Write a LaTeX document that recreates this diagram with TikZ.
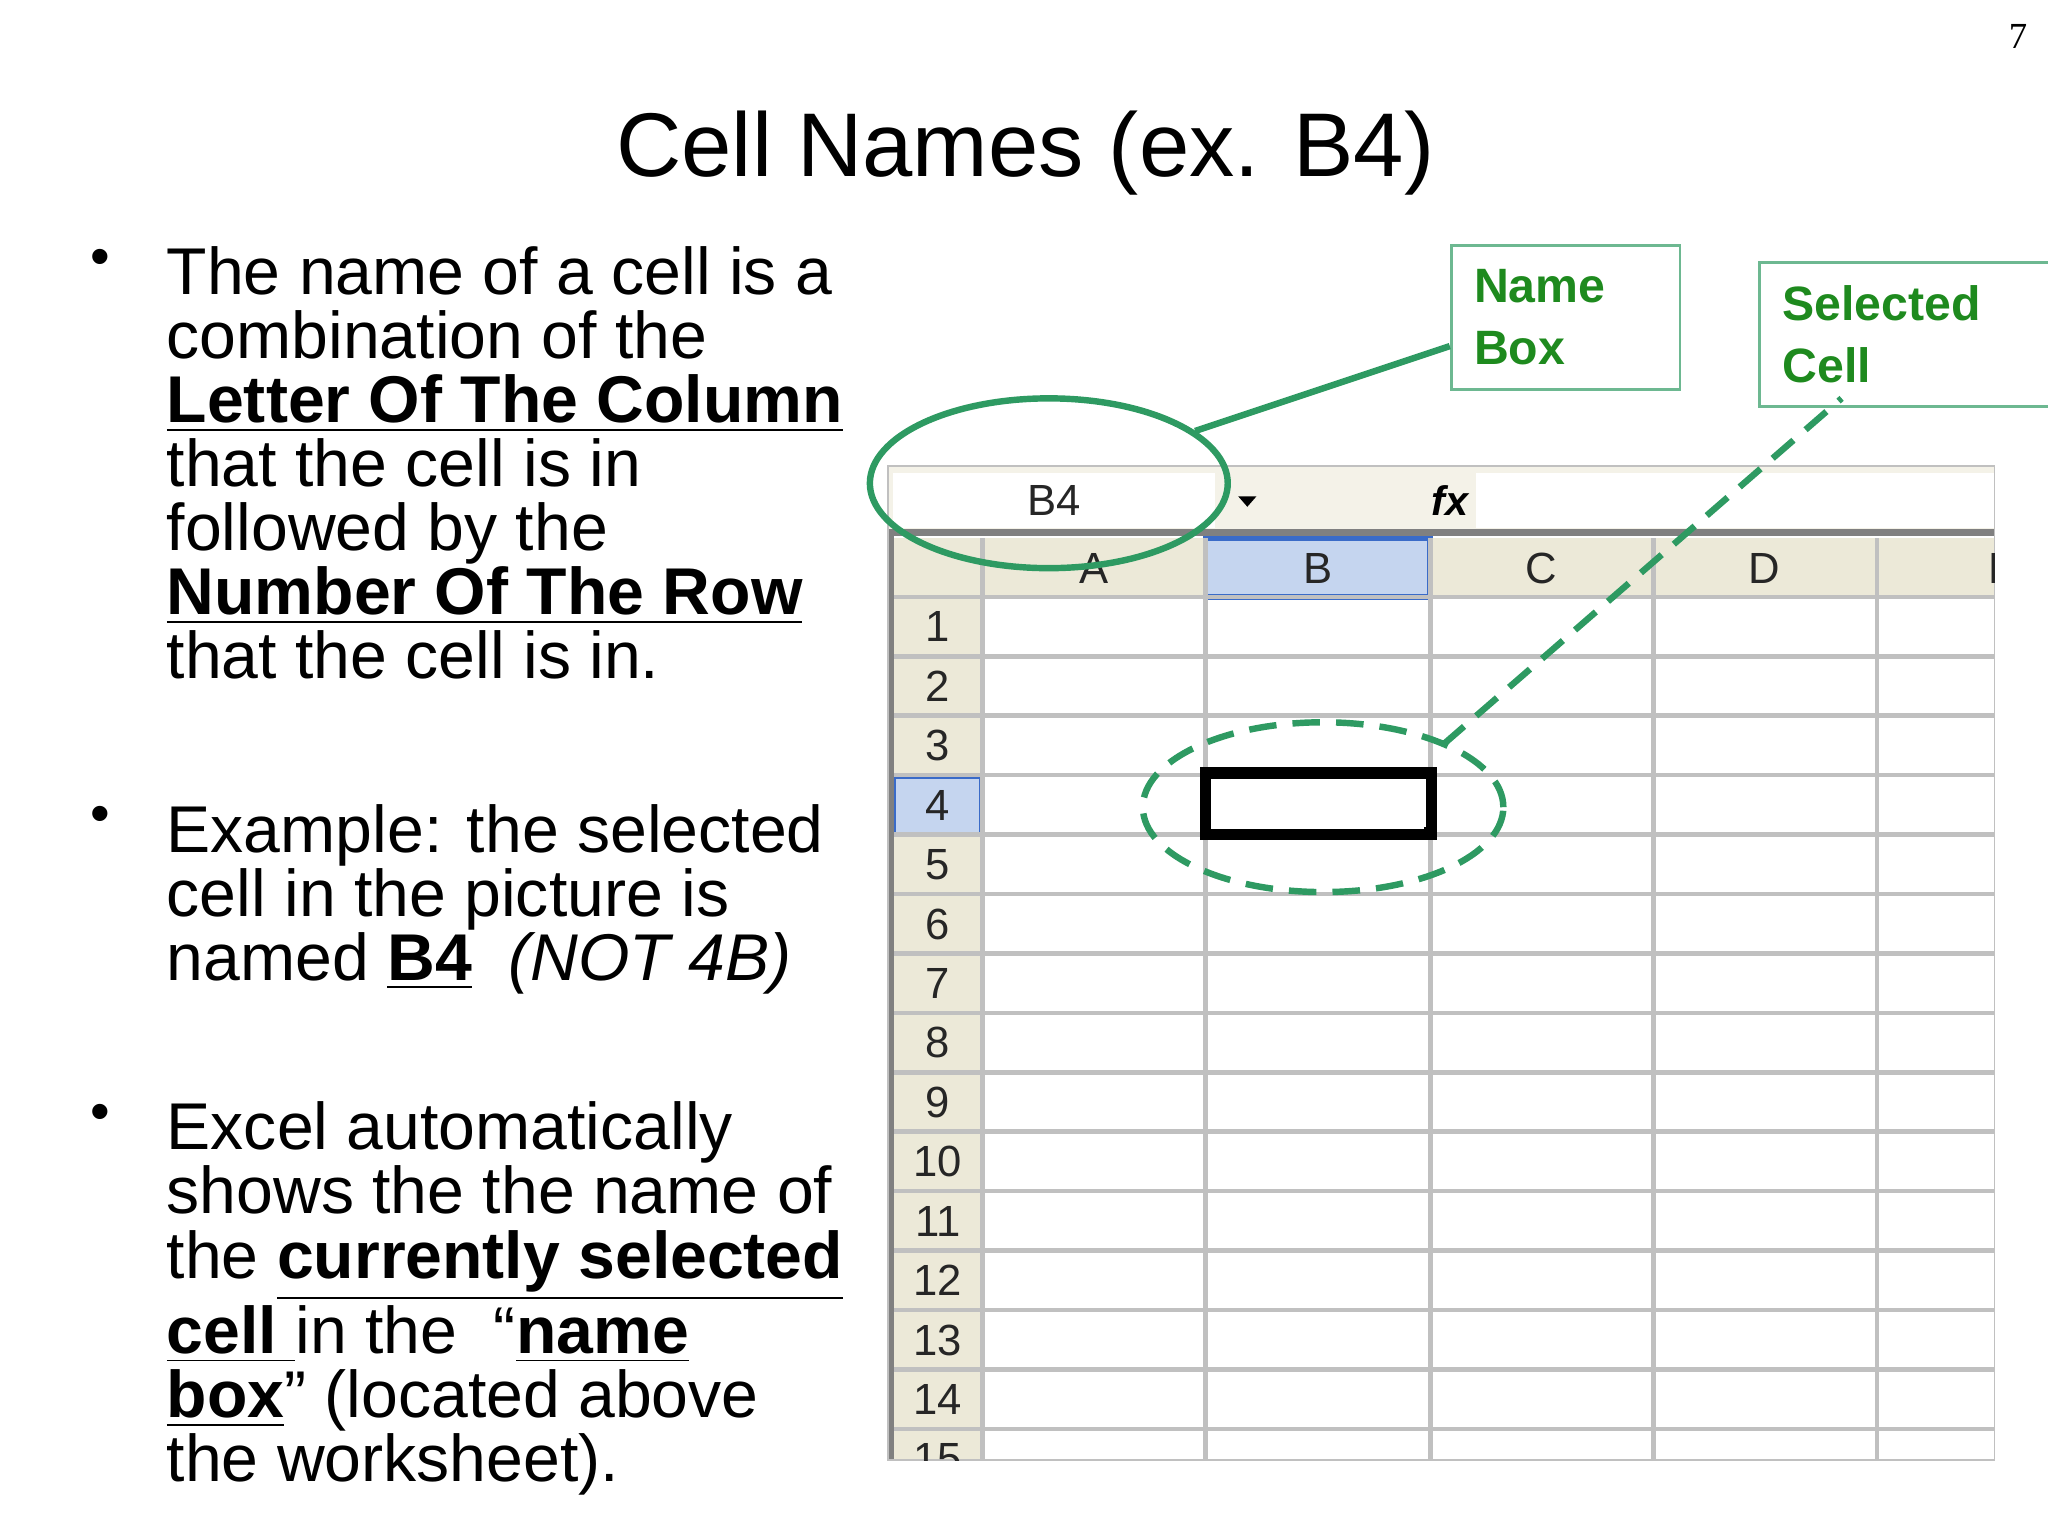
\documentclass[tikz,border=0pt]{standalone}
\usepackage{fontspec}
\usetikzlibrary{shapes.geometric}
\setmainfont{Liberation Sans}
\newfontfamily\serifpg{Liberation Serif}
\definecolor{grn}{HTML}{2E9A62}
\definecolor{lbl}{HTML}{1E8A1E}
\definecolor{hdr}{HTML}{ECE9D8}
\definecolor{grid}{HTML}{C0C0C0}
\definecolor{selb}{HTML}{C5D5EF}
\definecolor{selline}{HTML}{3A6BC8}
\tikzset{
 body/.style={anchor=north west,align=left,inner sep=0pt,font=\fontsize{14.4pt}{13.95pt}\selectfont},
 bul/.style={anchor=north,inner sep=0pt,font=\fontsize{12.2pt}{13.9pt}\selectfont},
 hd/.style={font=\fontsize{9.5pt}{10pt}\selectfont,text=black!85},
 lblbox/.style={draw=grn!70,line width=0.6pt,anchor=north west,align=left,text=lbl,font=\bfseries\fontsize{10.5pt}{13.5pt}\selectfont,inner xsep=5pt,inner ysep=0pt},
 ring/.style={draw=grn,line width=1.4pt},
 dsh/.style={dash pattern=on 6pt off 3.5pt},
}
\begin{document}
\begin{tikzpicture}[x=0.01cm,y=-0.01cm]
\useasboundingbox (0,0) rectangle (1568,1176);
\node[font=\serifpg\fontsize{8pt}{8pt}\selectfont] (pg) at (1545,28) {7};
\node[font=\fontsize{19.7pt}{20pt}\selectfont] (title) at (785,117) {Cell Names (ex. B4)};
% bullets
\node[bul] (b1) at (77,190) {•};
\node[body] (t1) at (127,188) {The name of a cell is a\\combination of the\\\textbf{\underline{Letter Of The Column}}\\that the cell is in\\followed by the\\\textbf{\underline{Number Of The Row}}\\that the cell is in.};
\node[bul] (b2) at (77,617) {•};
\node[body] (t2) at (127,615) {Example: the selected\\cell in the picture is\\named \textbf{\underline{B4}}\ \ \textit{(NOT 4B)}};
\node[bul] (b3) at (77,845) {•};
\node[body] (t3) at (127,843) {Excel automatically\\shows the the name of\\the \textbf{\underline{currently selected}}\\\textbf{\underline{cell }}in the \ “\textbf{\underline{name}}\\\textbf{\underline{box}}” (located above\\the worksheet).};
% spreadsheet
\fill[hdr!60] (680,357) rectangle (1527,408);
\fill[white] (684,362) rectangle (930,404);
\fill[white] (1130,362) rectangle (1527,404);
\node[hd] (nb) at (807,383) {B4};
\fill (948,380) -- (962,380) -- (955,388) -- cycle;
\node[font=\itshape\bfseries\fontsize{9pt}{9pt}\selectfont] (fx) at (1110,383) {fx};
\fill[hdr] (684,412) rectangle (1527,457);
\fill[hdr] (684,457) rectangle (752,1118);
\fill[selb] (923,412) rectangle (1095,457);
\draw[selline,line width=1.2pt] (923,412) rectangle (1095,457);
\fill[selb] (684,594) rectangle (752,639);
\draw[selline,line width=1.2pt] (684,594) rectangle (752,639);
\foreach \x in {752,923,1095,1266,1437} \draw[grid,line width=1pt] (\x,412) -- (\x,1118);
\foreach \i in {0,...,14} \draw[grid,line width=1pt] (684,457+45.5*\i) -- (1527,457+45.5*\i);
\draw[gray,line width=1.5pt] (680,408) -- (1527,408);
\draw[gray,line width=1.5pt] (682,408) -- (682,1118);
\draw[grid] (680,357) rectangle (1527,1118);
\foreach \l/\x in {A/838,B/1009,C/1180,D/1351} \node[hd] at (\x,435) {\l};
\begin{scope}\clip (1437,412) rectangle (1527,457); \node[hd,anchor=west] at (1510,435) {E};\end{scope}
\foreach \i in {1,...,14} \node[hd] at (718,480+45.5*\i-45.5) {\i};
\begin{scope}\clip (684,1095) rectangle (752,1118); \node[hd] at (718,1117) {15};\end{scope}
\draw[black,line width=2.5pt] (923,592) rectangle (1096,639);
\fill[black] (1090,633) rectangle (1100,643);
% labels
\node[lblbox,minimum width=170*0.01cm,minimum height=110*0.01cm,text width=140*0.01cm] (nbox) at (1110,187) {Name\\Box};
\node[lblbox,minimum width=222*0.01cm,minimum height=110*0.01cm,text width=190*0.01cm] (sbox) at (1346,200) {Selected\\Cell};
\node[ring,ellipse,minimum width=274*0.01cm,minimum height=130*0.01cm] (e1) at (803,370) {};
\node[ring,dsh,ellipse,minimum width=276*0.01cm,minimum height=130*0.01cm] (e2) at (1013,618) {};
\coordinate (p1) at (915,330);
\coordinate (p2) at (1110,265);
\coordinate (q1) at (1105,570);
\coordinate (q2) at (1410,305);
\draw[grn,line width=1.4pt] (p1) -- (p2);
\draw[grn,line width=1.4pt,dsh] (q1) -- (q2);
\end{tikzpicture}
\end{document}
